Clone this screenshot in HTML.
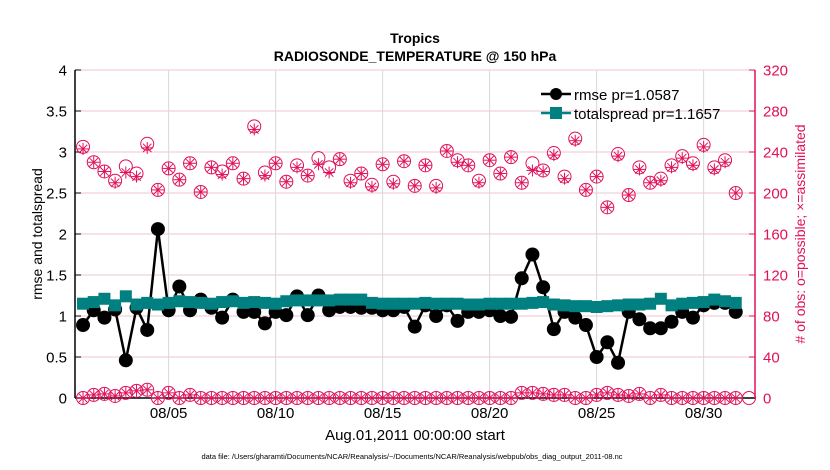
<!DOCTYPE html>
<html><head><meta charset="utf-8"><style>
body{margin:0;background:#fff;}
svg{display:block;font-family:"Liberation Sans",sans-serif;}
</style></head><body>
<svg id="chart" width="830" height="470" viewBox="0 0 830 470" xmlns="http://www.w3.org/2000/svg">
<rect width="830" height="470" fill="#fff"/>
<g id="grid"></g>
<g id="axes"></g>
<g id="series"></g>
<text x="415" y="43" text-anchor="middle" font-weight="bold" font-size="14">Tropics</text>
<text x="415" y="61" text-anchor="middle" font-weight="bold" font-size="14">RADIOSONDE_TEMPERATURE @ 150 hPa</text>
<text transform="translate(42,234) rotate(-90)" text-anchor="middle" font-size="14">rmse and totalspread</text>
<text transform="translate(805,234) rotate(-90)" text-anchor="middle" font-size="14" fill="#e0105a"># of obs: o=possible; ×=assimilated</text>
<text x="415" y="440" text-anchor="middle" font-size="15">Aug.01,2011 00:00:00 start</text>
<text x="412" y="459" text-anchor="middle" font-size="7.5">data file: /Users/gharamti/Documents/NCAR/Reanalysis/~/Documents/NCAR/Reanalysis/webpub/obs_diag_output_2011-08.nc</text>
<g>
<line x1="541" y1="94" x2="571" y2="94" stroke="#000" stroke-width="2.5"/>
<circle cx="556" cy="94" r="6" fill="#000"/>
<text x="574" y="100" font-size="15">rmse pr=1.0587</text>
<line x1="541" y1="113" x2="571" y2="113" stroke="#008080" stroke-width="2.5"/>
<rect x="550" y="107" width="12" height="12" fill="#008080"/>
<text x="574" y="119" font-size="15">totalspread pr=1.1657</text>
</g>
</svg>
<script>
const possible=[245,230,221,212,226,219,248,203,224,213,229,201,225,221,229,214,265,220,229,211,227,217,234,225,233,212,219,208,228,211,231,207,227,207,241,232,227,212,232,219,235,210,229,222,239,216,253,203,216,186,238,198,225,210,214,227,236,229,247,225,232,200];
const assimilated=[243,230,221,210,220,216,244,203,224,213,229,201,225,218,229,214,262,217,229,211,225,217,228,220,233,210,219,206,228,209,231,207,227,205,241,230,227,210,232,219,235,210,222,221,237,214,251,203,216,186,236,198,223,210,212,225,234,227,245,223,230,200];
const possibleLow=[0,3,4,2,5,7,8,0,5,0,3,0,0,0,0,0,0,0,0,0,0,0,0,0,0,0,0,0,0,0,0,0,0,0,0,0,0,0,0,0,0,5,5,4,3,3,0,0,3,5,3,2,4,0,3,0,0,0,0,0,0,0];
const rmse=[0.89,1.07,0.98,1.08,0.46,1.10,0.83,2.06,1.07,1.36,1.07,1.20,1.10,0.98,1.20,1.05,1.05,0.91,1.05,1.01,1.24,1.01,1.25,1.07,1.11,1.11,1.10,1.10,1.07,1.07,1.11,0.87,1.13,1.00,1.13,0.94,1.05,1.05,1.07,1.00,0.99,1.46,1.75,1.35,0.84,1.05,0.98,0.89,0.50,0.68,0.43,1.05,0.96,0.85,0.85,0.93,1.05,0.98,1.13,1.16,1.16,1.05];
const spread=[1.15,1.17,1.21,1.13,1.24,1.14,1.16,1.14,1.16,1.18,1.17,1.16,1.15,1.17,1.18,1.16,1.17,1.16,1.15,1.18,1.19,1.19,1.19,1.19,1.20,1.20,1.20,1.16,1.15,1.15,1.15,1.15,1.16,1.15,1.15,1.15,1.14,1.14,1.15,1.15,1.15,1.15,1.16,1.17,1.14,1.13,1.12,1.12,1.11,1.12,1.13,1.14,1.14,1.15,1.21,1.13,1.15,1.16,1.17,1.20,1.18,1.16];
const yTicks=[0,0.5,1,1.5,2,2.5,3,3.5,4];
const yTickLabels=["0","0.5","1","1.5","2","2.5","3","3.5","4"];
const rTicks=[0,40,80,120,160,200,240,280,320];
const xTicks=[8,18,28,38,48,58];
const xTickLabels=["08/05","08/10","08/15","08/20","08/25","08/30"];

const NS="http://www.w3.org/2000/svg";
const X0=75,X1=755,Y0=398,Y1=70;
const xMin=-0.75,xMax=62.8;
const xs=i=>X0+(i-xMin)/(xMax-xMin)*(X1-X0);
const yl=v=>Y0-v/4*(Y0-Y1);
const yr=v=>Y0-v/320*(Y0-Y1);
function mk(tag,attrs,parent){const e=document.createElementNS(NS,tag);for(const k in attrs)e.setAttribute(k,attrs[k]);parent.appendChild(e);return e;}
const grid=document.getElementById('grid'),axes=document.getElementById('axes'),ser=document.getElementById('series');
const pink="#e0105a";
yTicks.forEach((t,k)=>{
  const y=yl(t);
  if(t>0){const g=mk('line',{x1:X0,x2:X1,y1:y,y2:y,stroke:"#f2c6d6","stroke-width":1},grid);
  
  }
  mk('line',{x1:X0,x2:X0+6,y1:y,y2:y,stroke:"#000"},axes);
  const tx=mk('text',{x:X0-8,y:y+5.5,"text-anchor":"end","font-size":15},axes);
  tx.textContent=yTickLabels[k];
  
  
});
rTicks.forEach(t=>{
  const y=yr(t);
  mk('line',{x1:X1-6,x2:X1,y1:y,y2:y,stroke:pink},axes);
  const tx=mk('text',{x:X1+8,y:y+5.5,"font-size":15,fill:pink},axes);
  tx.textContent=t;
  
  
});
xTicks.forEach((t,k)=>{
  const x=xs(t);
  const g=mk('line',{x1:x,x2:x,y1:Y1,y2:Y0,stroke:"#d8d8d8"},grid);
  
  
  mk('line',{x1:x,x2:x,y1:Y0,y2:Y0-6,stroke:"#000"},axes);
  const tx=mk('text',{x:x,y:Y0+20,"text-anchor":"middle","font-size":15},axes);
  tx.textContent=xTickLabels[k];
  
  
});
mk('line',{x1:X0,x2:X0,y1:Y1,y2:Y0,stroke:"#000","stroke-width":1.5},axes);
mk('line',{x1:X0,x2:X1,y1:Y0,y2:Y0,stroke:"#000","stroke-width":1.5},axes);
mk('line',{x1:X1,x2:X1,y1:Y1,y2:Y0,stroke:pink,"stroke-width":1.5},axes);

function obsMarker(x,y,star){
  const g=mk('g',{stroke:pink,"stroke-width":1,fill:"none"},ser);
  
  
  if(!star){mk('circle',{cx:x,cy:y,r:6.5},g);}
  else{const r=6;mk('line',{x1:x-r,x2:x+r,y1:y,y2:y},g);mk('line',{x1:x,x2:x,y1:y-r,y2:y+r},g);
  mk('line',{x1:x-r*.7,x2:x+r*.7,y1:y-r*.7,y2:y+r*.7},g);mk('line',{x1:x-r*.7,x2:x+r*.7,y1:y+r*.7,y2:y-r*.7},g);}
}
possible.forEach((v,i)=>obsMarker(xs(i),yr(v),false));
assimilated.forEach((v,i)=>obsMarker(xs(i),yr(v),true));
possibleLow.forEach((v,i)=>{obsMarker(xs(i),yr(v),false);obsMarker(xs(i),yr(v),true);});
mk('circle',{cx:X1-6,cy:yr(0),r:6.5,stroke:pink,fill:"none"},ser);

const rl=mk('polyline',{points:rmse.map((v,i)=>xs(i)+","+yl(v)).join(" "),fill:"none",stroke:"#000","stroke-width":2.5},ser);


rmse.forEach((v,i)=>{const c=mk('circle',{cx:xs(i),cy:yl(v),r:7,fill:"#000"},ser);

});
const sl=mk('polyline',{points:spread.map((v,i)=>xs(i)+","+yl(v)).join(" "),fill:"none",stroke:"#008080","stroke-width":2.5},ser);


spread.forEach((v,i)=>{const r=mk('rect',{x:xs(i)-6,y:yl(v)-6,width:12,height:12,fill:"#008080"},ser);

});
</script>
</body></html>
